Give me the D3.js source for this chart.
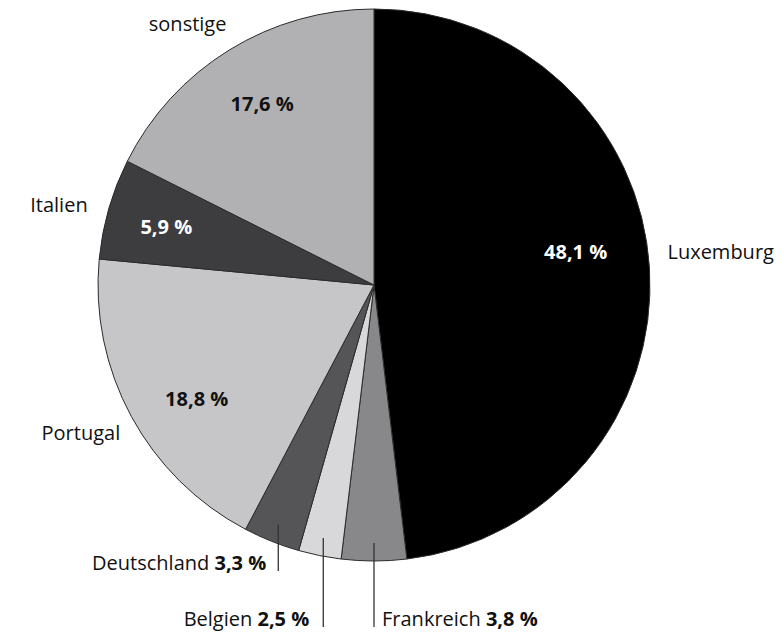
<!DOCTYPE html>
<html>
<head>
<meta charset="utf-8">
<script src="https://cdn.jsdelivr.net/npm/d3@7"></script>
<style>
  body { margin: 0; background: #fff; }
  text { font-family: "Open Sans", "DejaVu Sans", sans-serif; }
</style>
</head>
<body>
<div id="chart"></div>
<script>
// slices, clockwise from 12 o'clock
const countries = ['Luxemburg', 'Frankreich', 'Belgien', 'Deutschland', 'Portugal', 'Italien', 'sonstige'];
const shares = [48.1, 3.8, 2.5, 3.3, 18.8, 5.9, 17.6];
const colors = ['#000000', '#88888a', '#d8d8da', '#555557', '#c6c6c8', '#3d3c3f', '#b1b1b3'];

const width = 783;
const height = 634;
const cx = 374, cy = 285, radius = 276;

// slices too small for an inner label get a leader line down to a text below
const leader = {
    Frankreich:  {lineEnd: 342, anchor: 'start', dx: 8},
    Belgien:     {lineEnd: 342, anchor: 'end', dx: -14},
    Deutschland: {lineEnd: 286, anchor: 'end', dx: -12}
};
const innerShift = {Luxemburg: [-11, -20], Portugal: [10, 13], Italien: [-3, 1]};
const nameShift = {Luxemburg: [-6, -15], sonstige: [10, -6], Portugal: [10, 5], Italien: [2, 3]};

const fmt = v => d3.format('.1f')(v).replace('.', ',') + ' %';

const data = countries.map((c, i) => ({name: c, value: shares[i], color: colors[i]}));

const svg = d3.select('#chart')
    .append('svg')
    .attr('width', width)
    .attr('height', height)
    .attr('viewBox', [0, 0, width, height]);

const pie = d3.pie()
    .sort(null)
    .value(d => d.value);

const arcs = pie(data);

const arc = d3.arc().innerRadius(0).outerRadius(radius);
const labelArc = d3.arc().innerRadius(213).outerRadius(213);
const nameArc = d3.arc().innerRadius(300).outerRadius(300);
const leaderArc = d3.arc().innerRadius(258).outerRadius(258);

const g = svg.append('g')
    .attr('transform', `translate(${cx},${cy})`);

g.selectAll('path')
    .data(arcs)
    .join('path')
        .attr('d', arc)
        .attr('fill', d => d.data.color)
        .attr('stroke', '#2b2b2b')
        .attr('stroke-width', 1);

const big = arcs.filter(d => !leader[d.data.name]);
const small = arcs.filter(d => leader[d.data.name]);

// percent inside slice
g.selectAll('text.pct')
    .data(big)
    .join('text')
        .attr('class', 'pct')
        .attr('transform', d => {
            const [x, y] = labelArc.centroid(d);
            const s = innerShift[d.data.name] || [0, 0];
            return `translate(${x + s[0]},${y + s[1]})`;
        })
        .attr('text-anchor', 'middle')
        .attr('dy', '0.35em')
        .attr('font-size', '20px')
        .attr('font-weight', 'bold')
        .attr('fill', d => d3.lab(d.data.color).l < 40 ? '#fff' : '#111')
        .text(d => fmt(d.data.value));

// country name outside
g.selectAll('text.name')
    .data(big)
    .join('text')
        .attr('class', 'name')
        .attr('transform', d => {
            const [x, y] = nameArc.centroid(d);
            const s = nameShift[d.data.name] || [0, 0];
            return `translate(${x + s[0]},${y + s[1]})`;
        })
        .attr('text-anchor', d => nameArc.centroid(d)[0] > 0 ? 'start' : 'end')
        .attr('dy', '0.35em')
        .attr('font-size', '20px')
        .attr('fill', '#111')
        .text(d => d.data.name);

// leader lines for the small slices
g.selectAll('line.leader')
    .data(small)
    .join('line')
        .attr('class', 'leader')
        .attr('x1', d => leaderArc.centroid(d)[0])
        .attr('x2', d => leaderArc.centroid(d)[0])
        .attr('y1', d => leaderArc.centroid(d)[1])
        .attr('y2', d => leader[d.data.name].lineEnd)
        .attr('stroke', '#333')
        .attr('stroke-width', 1.3);

const smallText = g.selectAll('text.small')
    .data(small)
    .join('text')
        .attr('class', 'small')
        .attr('x', d => leaderArc.centroid(d)[0] + leader[d.data.name].dx)
        .attr('y', d => leader[d.data.name].lineEnd - 1)
        .attr('text-anchor', d => leader[d.data.name].anchor)
        .attr('font-size', '20px')
        .attr('fill', '#111');

smallText.append('tspan').text(d => d.data.name + ' ');
smallText.append('tspan').attr('font-weight', 'bold').text(d => fmt(d.data.value));
</script>
</body>
</html>
